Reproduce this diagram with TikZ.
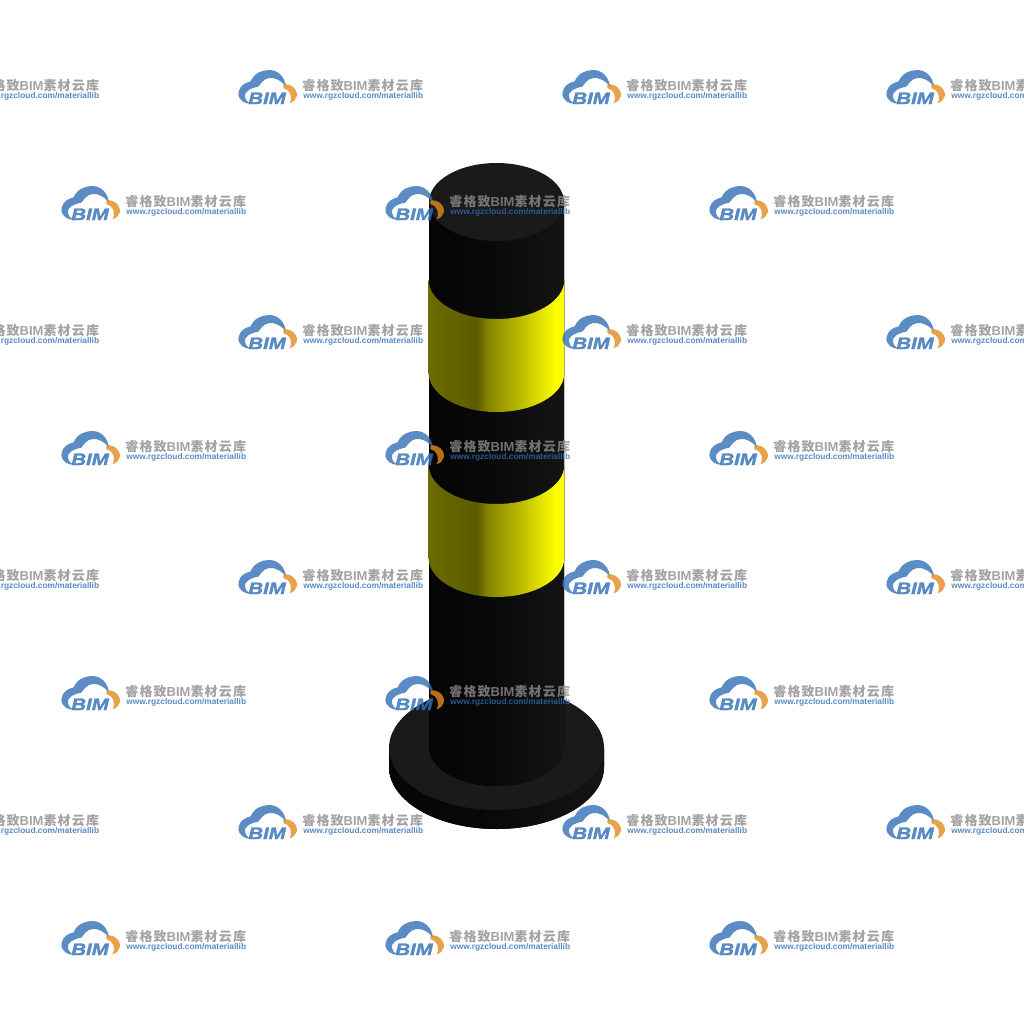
\documentclass[tikz,border=0pt]{standalone}
\usepackage{fontspec}
\setmainfont{Liberation Sans}
\newfontfamily\cjkfont[LetterSpace=9]{Noto Sans CJK SC}
\newfontfamily\bimfont[FakeBold=1.5]{Liberation Sans}
\usetikzlibrary{positioning}

\definecolor{bimblue}{HTML}{3270B5}
\definecolor{bimorange}{HTML}{E28B1F}
\definecolor{bimgray}{HTML}{8C8C8C}
\definecolor{linkblue}{HTML}{2F6DB5}
\definecolor{topdark}{HTML}{1A1A1A}

\pgfdeclarehorizontalshading{blackside}{100bp}{
    color(0bp)=(black!98!white); color(25bp)=(black!98!white);
    color(45bp)=(black!97!white); color(75bp)=(black!92!white); color(100bp)=(black!92!white)}
\pgfdeclarehorizontalshading{yellowside}{100bp}{
    color(0bp)=(yellow!42!black); color(25bp)=(yellow!42!black);
    color(43bp)=(yellow!36!black); color(46bp)=(yellow!50!black);
    color(60bp)=(yellow!76!black); color(72bp)=(yellow); color(100bp)=(yellow)}

\tikzset{
    markname/.style={inner sep=0pt, text=bimgray, font=\fontsize{7.4pt}{8pt}\bfseries},
    marklink/.style={inner sep=0pt, text=linkblue, font=\fontsize{4.75pt}{5pt}\bfseries},
    markbim/.style={inner sep=0pt, text=bimblue, xscale=1.22, font=\fontsize{9.5pt}{10pt}\bimfont\bfseries\itshape},
}

% one watermark, #1 is the left end of the cloud, #2 its height
\newcommand{\bimmark}[2]{
    \begin{scope}[shift={(#1-8,#2-28)}, scale=1/3, opacity=0.8]
    \fill[bimblue] (50,130) .. controls (30,124) and (22,107) .. (26,95)
        .. controls (30,77) and (45,68) .. (62,64)
        .. controls (72,40) and (95,30) .. (118,30)
        .. controls (145,30) and (165,52) .. (168,80)
        .. controls (155,62) and (135,52) .. (118,54)
        .. controls (100,56) and (92,72) .. (85,80)
        .. controls (60,84) and (40,97) .. (45,112)
        .. controls (47,120) and (52,126) .. (60,130) -- cycle;
    \fill[bimorange] (160,74) .. controls (182,68) and (206,90) .. (200,110)
        .. controls (198,120) and (190,126) .. (178,130)
        .. controls (190,112) and (180,88) .. (160,84) -- cycle;
    \node[markbim, anchor=west]  (bim\x)  at (54,115)  {BIM};
    \node[markname, anchor=west] (name\x) at (216,78)  {{\cjkfont 睿格致}BIM{\cjkfont 素材云库}};
    \node[marklink, anchor=west] (link\x) at (219,109) {www.rgzcloud.com/materiallib};
    \end{scope}
}

\begin{document}
\begin{tikzpicture}[x=0.02cm, y=-0.02cm]
\useasboundingbox (0,0) rectangle (1024,1024);
\clip (0,0) rectangle (1024,1024);

%Base
\fill[shading=blackside] (389,748) -- (389,767) arc[start angle=180, end angle=0, x radius=107.5, y radius=62] -- (604,748) -- cycle;
\fill[topdark] (496.5,748) ellipse[x radius=107.5, y radius=62];

%Post
\fill[shading=blackside] (429,202) -- (429,747) arc[start angle=180, end angle=0, x radius=67.5, y radius=39] -- (564,202) -- cycle;
\foreach \y in {280,465}{
    \fill[shading=yellowside] (428.7,\y) arc[start angle=180, end angle=0, x radius=67.8, y radius=39]
        -- ++(0,93) arc[start angle=0, end angle=180, x radius=67.8, y radius=39] -- cycle;
}
\fill[topdark] (496.5,202) ellipse[x radius=67.5, y radius=39];

%Watermarks
\foreach \x in {-86,238,562,886}{
    \foreach \y in {88,333,578,823}{\bimmark{\x}{\y}}
}
\foreach \x in {61,385,709}{
    \foreach \y in {204,449,694,939}{\bimmark{\x}{\y}}
}
\end{tikzpicture}
\end{document}
